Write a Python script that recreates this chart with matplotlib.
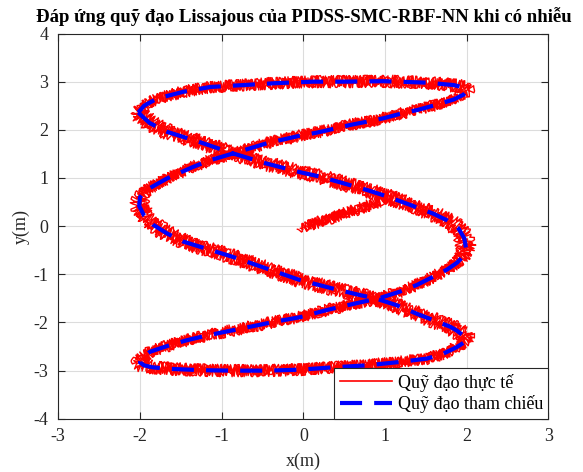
import matplotlib
matplotlib.use("Agg")
import matplotlib.pyplot as plt
from matplotlib.lines import Line2D
from matplotlib.transforms import offset_copy

# reference Lissajous path (x, y in m)
ref_x = [-2.02, -1.96, -1.88, -1.67, -1.26, -0.86, -0.45, -0.04, 0.20, 0.45,
         0.78, 1.02, 1.31, 1.59, 1.76, 1.90, 1.97, 1.99, 1.96, 1.88,
         1.76, 1.59, 1.39, 1.18, 0.94, 0.57, 0.29, -0.04, -0.37, -0.57,
         -0.86, -1.18, -1.43, -1.67, -1.88, -1.98, -2.00, -1.95, -1.85, -1.67,
         -1.26, -0.86, -0.45, -0.04, 0.37, 0.78, 1.18, 1.51, 1.71, 1.88,
         1.97, 2.00, 1.95, 1.88, 1.80, 1.59, 1.39, 1.14, 0.90, 0.69,
         0.37, -0.04, -0.45, -0.86, -1.26, -1.47, -1.67, -1.84, -1.95, -2.01,
         -2.00, -1.95, -1.88, -1.67, -1.35, -1.14, -0.86, -0.45, -0.04, 0.16,
         0.37, 0.57, 0.78, 0.98, 1.18, 1.39, 1.63, 1.84, 1.96, 2.00,
         1.96, 1.84, 1.51, 0.98, 0.49, 0.12, -0.33, -0.73, -1.14, -1.47,
         -1.79, -1.95, -2.02]
ref_y = [2.36, 2.26, 2.14, 1.96, 1.74, 1.51, 1.30, 1.12, 1.03, 0.91,
         0.75, 0.62, 0.44, 0.26, 0.12, -0.05, -0.25, -0.45, -0.62, -0.76,
         -0.90, -1.05, -1.22, -1.36, -1.49, -1.63, -1.74, -1.89, -1.99, -2.06,
         -2.16, -2.27, -2.37, -2.49, -2.61, -2.74, -2.83, -2.89, -2.93, -2.96,
         -2.99, -3.00, -3.00, -2.98, -2.93, -2.89, -2.82, -2.75, -2.65, -2.51,
         -2.41, -2.34, -2.26, -2.17, -2.09, -1.95, -1.82, -1.64, -1.51, -1.43,
         -1.30, -1.12, -0.88, -0.64, -0.43, -0.32, -0.15, 0.03, 0.22, 0.42,
         0.60, 0.70, 0.79, 0.99, 1.23, 1.37, 1.51, 1.72, 1.88, 1.94,
         2.02, 2.10, 2.17, 2.24, 2.33, 2.41, 2.52, 2.63, 2.73, 2.80,
         2.88, 2.93, 2.98, 3.01, 3.00, 3.00, 2.97, 2.93, 2.89, 2.79,
         2.65, 2.50, 2.36]

# actual trajectory starts at the origin and joins the reference
start_x = [0.00, 0.25, 0.50, 0.75, 0.98]
start_y = [-0.02, 0.12, 0.26, 0.40, 0.55]

act_x = start_x + ref_x[11:] + ref_x[1:12]
act_y = start_y + ref_y[11:] + ref_y[1:12]

xticks = [-3, -2, -1, 0, 1, 2, 3]
yticks = [-4, -3, -2, -1, 0, 1, 2, 3, 4]

plt.rcParams['font.family'] = ['Liberation Serif', 'DejaVu Serif']
plt.rcParams['axes.unicode_minus'] = False

fig = plt.figure(figsize=(5.83, 4.72), dpi=100)
ax = fig.add_axes([0.1, 0.1127, 0.8407, 0.8163])

# noisy actual trajectory: jittered copies shifted along the noise direction
jitter = [((0, 0), (6, 0.8, 50)),
          ((3, 1.1), (5, 0.7, 40)),
          ((-3, -1.1), (5, 0.9, 60)),
          ((6, 2.1), (4, 0.8, 45)),
          ((-6, -2.1), (4, 0.7, 55))]
for (dx, dy), sk in jitter:
    tr = offset_copy(ax.transData, fig=fig, x=dx, y=dy, units='dots')
    ln, = ax.plot(act_x, act_y, color='red', linewidth=1.0, zorder=2,
                  transform=tr)
    ln.set_sketch_params(*sk)

ax.plot(ref_x, ref_y, color='blue', linewidth=3, linestyle=(0, (5.3, 2.9)),
        zorder=3)

ax.set_xlim(-3, 3)
ax.set_ylim(-4, 4)
ax.set_xticks(xticks)
ax.set_yticks(yticks)
ax.grid(True, color='#dcdcdc', linewidth=0.8)
ax.set_axisbelow(True)
ax.tick_params(direction='in', top=True, right=True, length=5,
               labelsize=13, colors='#262626')
ax.tick_params(axis='x', pad=6.5)
ax.tick_params(axis='y', pad=7)
for s in ax.spines.values():
    s.set_color('#262626')
    s.set_linewidth(0.8)

ax.set_xlabel('x(m)', fontsize=13, color='#262626', labelpad=6)
ax.set_ylabel('y(m)', fontsize=13, color='#262626', labelpad=3)
ax.set_title('Đáp ứng quỹ đạo Lissajous của PIDSS-SMC-RBF-NN khi có nhiễu',
             fontsize=13.5, fontweight='bold', pad=8)

handles = [Line2D([], [], color='red', linewidth=1.2),
           Line2D([], [], color='blue', linewidth=3, linestyle=(0, (5.3, 2.9)))]
leg = ax.legend(handles, ['Quỹ đạo thực tế', 'Quỹ đạo tham chiếu'],
                loc='lower right', fontsize=13, fancybox=False, framealpha=1,
                edgecolor='#262626', borderaxespad=0, handlelength=2.9,
                handletextpad=0.3, borderpad=0.3, labelspacing=0.2)
leg.get_frame().set_linewidth(0.8)

fig.savefig('out.png', dpi=100)
